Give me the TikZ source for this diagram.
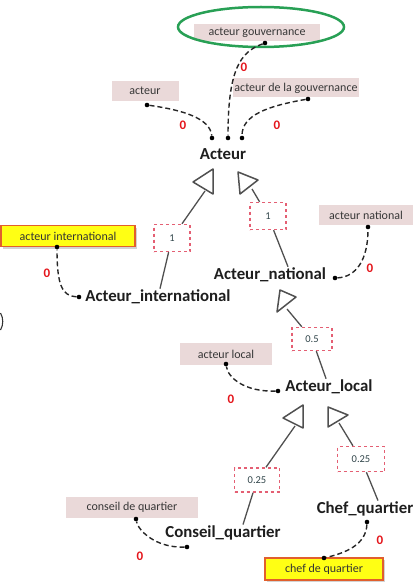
\documentclass[tikz,border=0pt]{standalone}
\usepackage{fontspec}
\setmainfont{Carlito}
\usetikzlibrary{shadows}
\definecolor{tagfill}{RGB}{234,217,217}
\definecolor{tagtext}{RGB}{55,55,55}
\definecolor{hiyellow}{RGB}{255,255,20}
\definecolor{hiborder}{RGB}{225,95,45}
\definecolor{govgreen}{RGB}{40,160,85}
\definecolor{zerored}{RGB}{228,22,28}
\definecolor{weightborder}{RGB}{228,95,115}
\definecolor{weighttext}{RGB}{50,70,75}
\definecolor{genline}{RGB}{80,80,80}
\definecolor{classtext}{RGB}{30,30,30}
\tikzset{
  tag/.style={fill=tagfill, text=tagtext, font=\fontsize{12}{12}\selectfont,
    inner sep=0pt, minimum height=20pt, align=center},
  hitag/.style={tag, fill=hiyellow, draw=hiborder, line width=1.3pt, text=black!80,
    drop shadow={shadow xshift=2pt, shadow yshift=-2pt, opacity=0.35}},
  classname/.style={font=\fontsize{16.8}{16.8}\selectfont\bfseries, text=classtext, inner sep=1pt},
  weight/.style={draw=weightborder, dashed, line width=1.4pt, fill=white, text=weighttext,
    font=\fontsize{10.5}{10.5}\selectfont, inner sep=0pt},
  zero/.style={font=\fontsize{13}{13}\selectfont\bfseries, text=zerored, inner sep=0pt},
  pin/.style={circle, fill=black, inner sep=0pt, minimum size=4.6pt},
  link/.style={dashed, dash pattern=on 5pt off 3pt, line width=1.4pt, black!85},
  genedge/.style={genline, line width=1.3pt},
  gentri/.style={genline, line width=1.5pt, fill=white, line join=round}
}
\begin{document}
\begin{tikzpicture}[x=1pt, y=-1pt]
\useasboundingbox (0,0) rectangle (416,588);

% --- class names ---
\node[classname] (acteur) at (223,154) {Acteur};
\node[classname] (natl)   at (270,275) {Acteur\_national};
\node[classname] (intl)   at (158,297) {Acteur\_international};
\node[classname] (local)  at (329,387) {Acteur\_local};
\node[classname] (cons)   at (223,533) {Conseil\_quartier};
\node[classname] (chef)   at (365,509) {Chef\_quartier};

% --- term tags ---
\node[tag, minimum width=126pt, minimum height=17pt] (tgov) at (257,33) {acteur gouvernance};
\draw[govgreen, line width=2.5pt] (261,27) ellipse [x radius=83, y radius=20];
\node[tag, minimum width=67pt]  (tact)  at (145,91)  {acteur};
\node[tag, minimum width=126pt, minimum height=19pt] (tgdl) at (296,88) {acteur de la gouvernance};
\node[tag, minimum width=94pt]  (tnat)  at (366,215) {acteur national};
\node[hitag, minimum width=134pt, minimum height=21pt] (tint) at (68,236) {acteur international};
\node[tag, minimum width=92pt, minimum height=22pt] (tloc) at (226,354) {acteur local};
\node[tag, minimum width=132pt, minimum height=21pt] (tcon) at (132,507) {conseil de quartier};
\node[hitag, minimum width=118pt, minimum height=22pt] (tchf) at (324,569) {chef de quartier};

% --- anchor pins ---
\node[pin] (pG)  at (265,43)  {};
\node[pin] (pA1) at (212,138) {};
\node[pin] (pA2) at (228,138) {};
\node[pin] (pA3) at (242,138) {};
\node[pin] (pAc) at (147,105) {};
\node[pin] (pGd) at (308,99)  {};
\node[pin] (pN)  at (335,278) {};
\node[pin] (pNb) at (368,227) {};
\node[pin] (pI)  at (79,297)  {};
\node[pin] (pIb) at (57,247)  {};
\node[pin] (pL)  at (278,391) {};
\node[pin] (pLb) at (226,364) {};
\node[pin] (pC)  at (187,547) {};
\node[pin] (pCb) at (136,519) {};
\node[pin] (pH)  at (367,522) {};
\node[pin] (pHb) at (324,558) {};

% --- dashed term links ---
\draw[link] (pG)  .. controls (240,52)  and (228,70)  .. (pA2);
\draw[link] (pAc) .. controls (182,110) and (210,118) .. (pA1);
\draw[link] (pGd) .. controls (268,106) and (242,115) .. (pA3);
\draw[link] (pN)  .. controls (356,277) and (368,260) .. (pNb);
\draw[link] (pI)  .. controls (62,296)  and (57,285)  .. (pIb);
\draw[link] (pL)  .. controls (245,392) and (228,378) .. (pLb);
\draw[link] (pC)  .. controls (155,548) and (138,530) .. (pCb);
\draw[link] (pH)  .. controls (366,545) and (345,553) .. (pHb);

% --- zero scores ---
\node[zero] (z1) at (244,67)  {0};
\node[zero] (z2) at (183,125) {0};
\node[zero] (z3) at (277,125) {0};
\node[zero] (z4) at (370,268) {0};
\node[zero] (z5) at (47,273)  {0};
\node[zero] (z6) at (231,399) {0};
\node[zero] (z7) at (140,556) {0};
\node[zero] (z8) at (380,540) {0};

% --- generalisation weights ---
\node[weight, minimum width=36pt, minimum height=27pt] (w1a)  at (172,238) {1};
\node[weight, minimum width=36pt, minimum height=27pt] (w1b)  at (268,216) {1};
\node[weight, minimum width=40pt, minimum height=23pt] (w05)  at (312,339) {0.5};
\node[weight, minimum width=45pt, minimum height=24pt] (w25a) at (257,480) {0.25};
\node[weight, minimum width=47pt, minimum height=25pt] (w25b) at (361,459) {0.25};

% --- generalisation edges ---
\coordinate (g1) at (205,191);
\coordinate (g2) at (252,189);
\coordinate (g3) at (287,309);
\coordinate (g4) at (295,426);
\coordinate (g5) at (339,423);
\draw[genedge] (intl) -- (w1a);
\draw[genedge] (w1a) -- (g1);
\draw[genedge] ([xshift=18pt]natl.north) -- (w1b);
\draw[genedge] (w1b) -- (g2);
\draw[genedge] (local) -- (w05);
\draw[genedge] (w05) -- (g3);
\draw[genedge] ([xshift=20pt]cons.north) -- (w25a);
\draw[genedge] (w25a) -- (g4);
\draw[genedge] ([xshift=13pt]chef.north) -- (w25b);
\draw[genedge] (w25b) -- (g5);

% --- hollow triangle heads ---
\draw[gentri] (213,169) -- (193,182) -- (213,194) -- cycle;
\draw[gentri] (238,172) -- (258,180) -- (240,194) -- cycle;
\draw[gentri] (280,290) -- (296,297) -- (277,312) -- cycle;
\draw[gentri] (303,405) -- (283,418) -- (303,428) -- cycle;
\draw[gentri] (328,407) -- (348,415) -- (328,427) -- cycle;

% stray bracket at the left edge
\draw[black!80, line width=1.1pt] (0.5,313) .. controls (3.5,318) and (3.5,325) .. (0.5,330);
\end{tikzpicture}
\end{document}
